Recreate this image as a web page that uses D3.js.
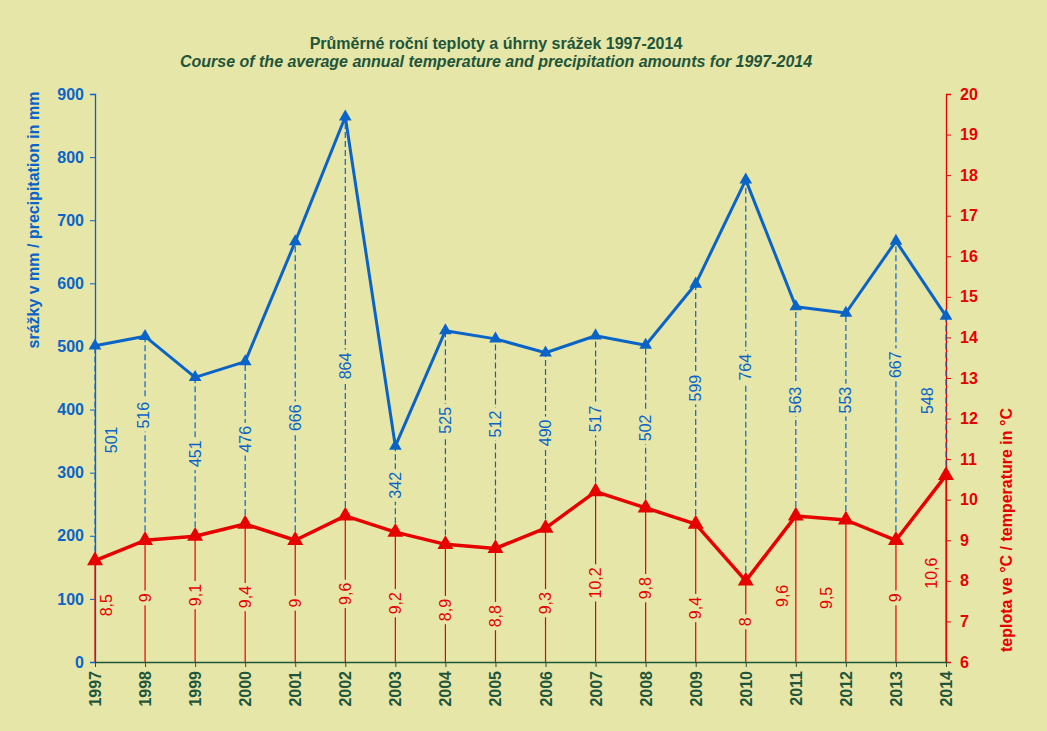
<!DOCTYPE html>
<html>
<head>
<meta charset="utf-8">
<script src="https://cdn.jsdelivr.net/npm/d3@7"></script>
<style>
  html, body { margin: 0; padding: 0; background: #e6e6a8; }
  svg { display: block; font-family: "Liberation Sans", Arial, sans-serif; }
</style>
</head>
<body>
<svg id="chart" width="1047" height="731"></svg>
<script>
'use strict'

// data
const years = ['1997', '1998', '1999', '2000', '2001', '2002', '2003', '2004', '2005',
  '2006', '2007', '2008', '2009', '2010', '2011', '2012', '2013', '2014']
const precipitation = [501, 516, 451, 476, 666, 864, 342, 525, 512, 490, 517, 502, 599, 764, 563, 553, 667, 548]
const temperature = [8.5, 9, 9.1, 9.4, 9, 9.6, 9.2, 8.9, 8.8, 9.3, 10.2, 9.8, 9.4, 8, 9.6, 9.5, 9, 10.6]
const precipTicks = [0, 100, 200, 300, 400, 500, 600, 700, 800, 900]
const tempTicks = [6, 7, 8, 9, 10, 11, 12, 13, 14, 15, 16, 17, 18, 19, 20]

// where the data labels sit (in axis units) and sideways shift in px
const precipLabelAt = [352, 391, 330, 353, 387, 469, 280, 383, 377, 363, 385, 371, 434, 467, 415, 415, 471, 414]
const tempLabelAt = [7.4, 7.58, 7.65, 7.6, 7.45, 7.68, 7.45, 7.28, 7.13, 7.45, 7.95, 7.82, 7.33, 6.99, 7.63, 7.58, 7.58, 8.19]
const precipShift = [16, -2, 0, 0, 0, 0, 0, 0, 0, 0, 0, 0, 0, 0, 0, 0, 0, -19]
const tempShift = [11, 0, 0, 0, 0, 0, 0, 0, 0, 0, 0, 0, 0, 0, -13, -19, 0, -15]

const bg = '#e6e6a8'
const blue = '#0a64c8'
const red = '#e60000'
const green = '#1f553a'
const font = '"Liberation Sans", Arial, sans-serif'

const svg = d3.select('#chart')
const margin = { top: 94, right: 101, bottom: 69, left: 95 }
const width = 1047 - margin.left - margin.right
const height = 731 - margin.top - margin.bottom

svg.append('rect').attr('width', 1047).attr('height', 731).attr('fill', bg)

const x = d3.scalePoint().domain(years).range([0, width])
const yP = d3.scaleLinear().domain([0, 900]).range([height, 0])
const yT = d3.scaleLinear().domain([6, 20]).range([height, 0])

// titles
svg.append('text')
  .attr('x', 496).attr('y', 49)
  .attr('text-anchor', 'middle')
  .attr('font-size', '16px').attr('font-weight', 'bold')
  .attr('fill', green)
  .text('Průměrné roční teploty a úhrny srážek 1997-2014')
svg.append('text')
  .attr('x', 496).attr('y', 67)
  .attr('text-anchor', 'middle')
  .attr('font-size', '16px').attr('font-weight', 'bold').attr('font-style', 'italic')
  .attr('fill', green)
  .text('Course of the average annual temperature and precipitation amounts for 1997-2014')

const g = svg.append('g').attr('transform', `translate(${margin.left}, ${margin.top})`)

// axes
const left = g.append('g')
  .call(d3.axisLeft(yP).tickValues(precipTicks).tickSize(5).tickPadding(6))
left.select('.domain').attr('stroke', blue).attr('stroke-width', 1.3)
left.selectAll('.tick line').attr('stroke', blue)
left.selectAll('.tick text').attr('fill', blue).attr('font-size', '16px').attr('font-weight', 'bold')
  .attr('font-family', font)

const right = g.append('g')
  .attr('transform', `translate(${width}, 0)`)
  .call(d3.axisRight(yT).tickValues(tempTicks).tickSize(5).tickPadding(9))
right.select('.domain').attr('stroke', red).attr('stroke-width', 1.3)
right.selectAll('.tick line').attr('stroke', red)
right.selectAll('.tick text').attr('fill', red).attr('font-size', '16px').attr('font-weight', 'bold')
  .attr('font-family', font)

const bottom = g.append('g')
  .attr('transform', `translate(0, ${height})`)
  .call(d3.axisBottom(x).tickSize(5).tickSizeOuter(0))
bottom.select('.domain').attr('stroke', green).attr('stroke-width', 1.5)
bottom.selectAll('.tick line').attr('stroke', green)
bottom.selectAll('.tick text')
  .attr('fill', green).attr('font-size', '16px').attr('font-weight', 'bold')
  .attr('font-family', font)
  .attr('text-anchor', 'end')
  .attr('dy', null)
  .attr('dominant-baseline', 'central')
  .attr('transform', 'translate(0, 9) rotate(-90)')
  .attr('y', 0).attr('x', 0)

// axis titles
svg.append('text')
  .attr('transform', `translate(33, 220) rotate(-90)`)
  .attr('text-anchor', 'middle').attr('dominant-baseline', 'central')
  .attr('font-size', '16px').attr('font-weight', 'bold')
  .attr('fill', blue)
  .text('srážky v mm / precipitation in mm')
svg.append('text')
  .attr('transform', `translate(1006, 530) rotate(-90)`)
  .attr('text-anchor', 'middle').attr('dominant-baseline', 'central')
  .attr('font-size', '16px').attr('font-weight', 'bold')
  .attr('fill', red)
  .text('teplota ve °C / temperature in °C')

// drop lines
g.append('g').selectAll('line')
  .data(years)
  .join('line')
  .attr('x1', d => x(d)).attr('x2', d => x(d))
  .attr('y1', height)
  .attr('y2', (d, i) => yT(temperature[i]))
  .attr('stroke', red).attr('stroke-width', 1.2)

g.append('g').selectAll('line')
  .data(years)
  .join('line')
  .attr('x1', d => x(d)).attr('x2', d => x(d))
  .attr('y1', (d, i) => yT(temperature[i]))
  .attr('y2', (d, i) => yP(precipitation[i]))
  .attr('stroke', blue).attr('stroke-width', 1.2)
  .attr('stroke-dasharray', '6,3')

// data labels with a background patch that interrupts the drop lines
function labels(values, at, shift, scale, color, fmt) {
  const lg = g.append('g').selectAll('g')
    .data(values)
    .join('g')
    .attr('transform', (d, i) => `translate(${x(years[i]) + shift[i]}, ${scale(at[i])}) rotate(-90)`)
  lg.append('rect').attr('fill', bg)
  lg.append('text')
    .attr('text-anchor', 'middle').attr('dominant-baseline', 'central')
    .attr('font-size', '16px')
    .attr('fill', color)
    .text(fmt)
  lg.each(function () {
    const t = d3.select(this).select('text')
    const w = t.node().getComputedTextLength()
    d3.select(this).select('rect')
      .attr('x', -w / 2 - 3).attr('y', -7).attr('width', w + 6).attr('height', 14)
  })
}

// lines and markers
const lineP = d3.line().x((d, i) => x(years[i])).y(d => yP(d))
const lineT = d3.line().x((d, i) => x(years[i])).y(d => yT(d))

g.append('path').datum(precipitation)
  .attr('d', lineP).attr('fill', 'none')
  .attr('stroke', blue).attr('stroke-width', 3).attr('stroke-linejoin', 'round')
g.append('path').datum(temperature)
  .attr('d', lineT).attr('fill', 'none')
  .attr('stroke', red).attr('stroke-width', 3.5).attr('stroke-linejoin', 'round')

labels(precipitation, precipLabelAt, precipShift, yP, blue, d => String(d))
labels(temperature, tempLabelAt, tempShift, yT, red, d => String(d).replace('.', ','))

const triP = d3.symbol().type(d3.symbolTriangle).size(70)
const triT = d3.symbol().type(d3.symbolTriangle).size(110)

g.append('g').selectAll('path')
  .data(precipitation)
  .join('path')
  .attr('d', triP)
  .attr('transform', (d, i) => `translate(${x(years[i])}, ${yP(d)})`)
  .attr('fill', blue)
g.append('g').selectAll('path')
  .data(temperature)
  .join('path')
  .attr('d', triT)
  .attr('transform', (d, i) => `translate(${x(years[i])}, ${yT(d)})`)
  .attr('fill', red)
</script>
</body>
</html>
